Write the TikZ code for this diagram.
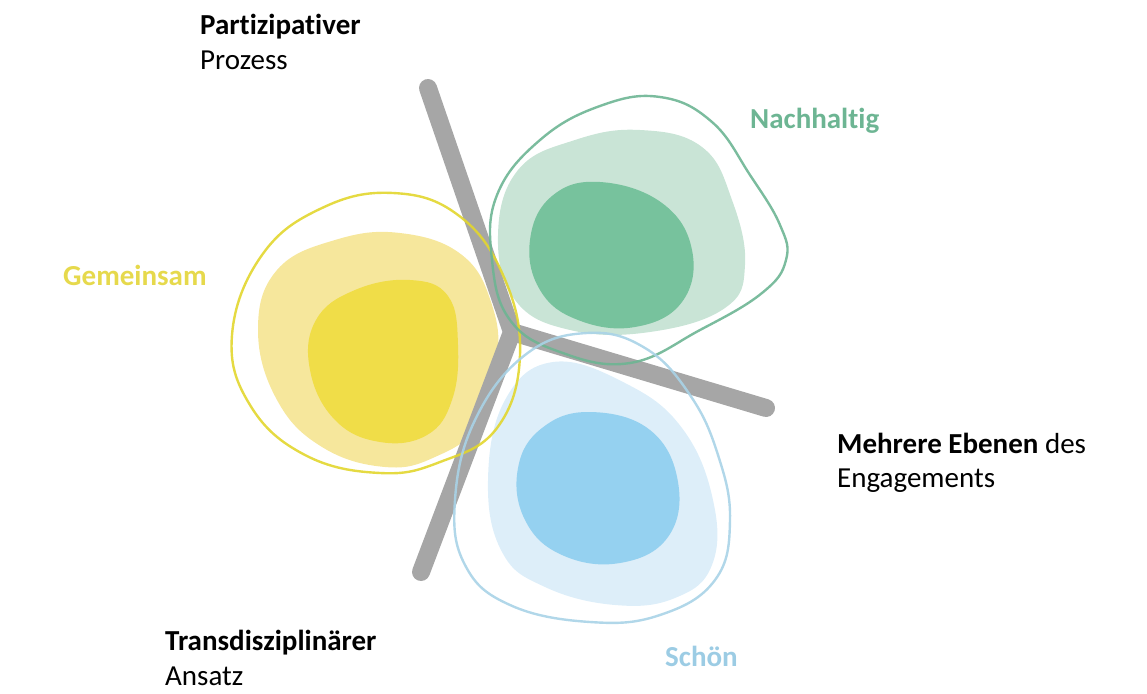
\documentclass[tikz,border=0pt]{standalone}
\usepackage{fontspec}
\setmainfont{Carlito}[Ligatures=NoCommon]
\usepackage{tikz}
\usepackage{xcolor}
\definecolor{armgray}{HTML}{A6A6A6}
\definecolor{yelDark}{HTML}{F0DD48}
\definecolor{yelLight}{HTML}{F6E79C}
\definecolor{yelRim}{HTML}{E2D62E}
\definecolor{yelText}{HTML}{E6D94C}
\definecolor{grnDark}{HTML}{77C29D}
\definecolor{grnLight}{HTML}{C9E4D6}
\definecolor{grnRim}{HTML}{6DB593}
\definecolor{bluDark}{HTML}{95D1F0}
\definecolor{bluLight}{HTML}{DDEEF9}
\definecolor{bluRim}{HTML}{A9D3E7}
\definecolor{bluText}{HTML}{9CCCE4}
\tikzset{arm/.style={line width=18pt,armgray,line cap=round,line join=round},
 rim/.style={line width=2.4pt,opacity=0.9},
 blob/.style={smooth cycle,tension=0.7},
 lbl/.style={anchor=base west,inner sep=0pt,font=\fontsize{29}{35}\selectfont},
 boldlbl/.style={lbl,font=\fontsize{29}{35}\selectfont\bfseries},
 }

\begin{document}
\begin{tikzpicture}[x=1pt,y=-1pt]
        \useasboundingbox (0,0) rectangle (1147,693);
        \fill [yelLight] plot[blob] coordinates {(400,233) (462,255) (492,305) (497,362) (478,425) (435,457) (385,467) (322,447) (277,400) (258,330) (277,270) (335,240)};
        \fill [yelDark] plot[blob] coordinates {(410,280) (448,296) (458,345) (452,400) (427,435) (380,442) (335,420) (310,370) (316,320) (355,290)};
        \fill [grnLight] plot[blob] coordinates {(640,130) (702,147) (732,200) (745,265) (725,308) (650,332) (570,330) (515,300) (498,235) (518,170) (575,140)};
        \fill [grnDark] plot[blob] coordinates {(600,182) (662,203) (692,250) (682,302) (635,327) (578,320) (540,290) (530,240) (552,196)};
        \fill [bluLight] plot[blob] coordinates {(553,362) (625,383) (682,428) (713,500) (712,565) (675,598) (615,605) (545,587) (502,552) (488,480) (505,400)};
        \fill [bluDark] plot[blob] coordinates {(590,412) (650,430) (678,482) (668,537) (620,563) (562,555) (525,520) (518,468) (542,428)};
        \coordinate (hub) at (512,332);
        \coordinate (armTop) at (428,88);
        \coordinate (armRight) at (766,408);
        \coordinate (armLow) at (421,572);
        \draw [arm] (armTop) -- (hub) -- (armLow);
        \draw [arm] (hub) -- (armRight);
        \draw [rim, yelRim] plot[blob] coordinates {(393,193) (458,215) (503,275) (520,355) (497,428) (440,462) (380,473) (305,455) (250,405) (232,335) (262,255) (322,208)};
        \draw [rim, grnRim] plot[blob] coordinates {(540,140) (600,106) (660,97) (712,122) (750,175) (780,225) (786,260) (762,293) (700,330) (630,363) (560,352) (510,320) (492,260) (497,195)};
        \draw [rim, bluRim] plot[blob] coordinates {(587,333) (645,348) (690,395) (718,455) (730,520) (715,580) (660,615) (590,622) (510,605) (465,565) (455,500) (475,420) (525,355)};
        \node [boldlbl] (partA) at (200,35) {Partizipativer};
        \node [lbl] (partB) at (200,70) {Prozess};
        \node [boldlbl, grnRim] (nach) at (750,128) {Nachhaltig};
        \node [boldlbl, yelText] (gem) at (63,285) {Gemeinsam};
        \node [lbl] (ebeA) at (837,453) {\textbf{Mehrere Ebenen} des};
        \node [lbl] (ebeB) at (837,487) {Engagements};
        \node [boldlbl] (transA) at (165,650) {Transdisziplinärer};
        \node [lbl] (transB) at (165,685) {Ansatz};
        \node [boldlbl, bluText] (schoen) at (665,666) {Schön};
    \end{tikzpicture}
\end{document}
